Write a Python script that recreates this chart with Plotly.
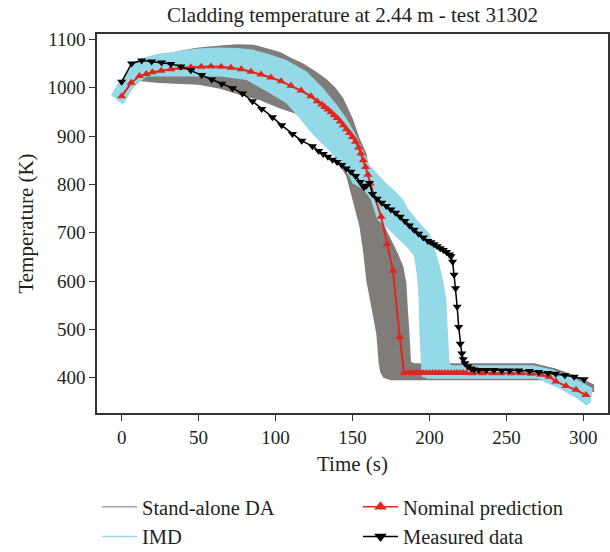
import plotly.graph_objects as go

# ---------------- data ----------------
title_text = "Cladding temperature at 2.44 m - test 31302"

# Measured data (black, down triangles)
meas_t = [0, 6.5, 13, 19.5, 26, 32, 38.5, 45, 52, 58.5, 65, 72, 78.5, 85, 91, 98, 104, 111, 117, 124,
          128, 131, 134, 137, 140, 143, 146, 149, 152, 155, 157.5, 159, 161, 163, 166, 169, 172, 175,
          178, 181, 184, 187, 190, 193, 196, 199, 201, 203, 205, 207, 209, 211, 213, 214, 215, 216,
          217, 218, 219, 220, 221, 222, 223, 225, 227, 229, 232, 237, 242, 247, 252, 258, 265, 271,
          277, 282, 288, 294, 300.5]
meas_T = [1012, 1050, 1056, 1054, 1052, 1049, 1044, 1036, 1026, 1017, 1008, 999, 988, 972, 956, 939, 922, 904, 890, 879,
          869, 863, 857, 851, 846, 840, 833, 826, 817, 805, 794, 797, 803, 780, 770, 762, 755, 748,
          741, 733, 724, 715, 706, 698, 690, 683, 680, 676, 672, 668, 664, 660, 655, 651, 640, 613,
          585, 547, 505, 470, 450, 438, 430, 423, 419, 417, 416, 416, 416, 415, 415, 415, 414, 412,
          410, 408, 405, 402, 397]

# Nominal prediction (red, up triangles)
nom_t = [0, 6.2, 11.6, 16, 20, 25.7, 32, 38.7, 45, 51.7, 58, 64.7, 71, 77.7, 84, 90.6, 97, 103.6, 110, 116.6,
         123, 127, 130, 132, 134, 136, 138, 140, 142, 144, 146, 148, 150, 152, 154, 155.5, 157, 158.5,
         160, 161.5, 168.6, 172.5, 176.3, 180.7, 183.5, 186, 188, 190, 192, 194, 196, 198, 200, 202,
         204, 206, 208, 210, 212, 214, 216, 218, 220, 222, 224, 228, 234.5, 241, 246.5, 253, 259.4,
         265.9, 272.4, 277.8, 282.2, 288.7, 295.2, 301.7]
nom_T = [982, 1010, 1024, 1028, 1032, 1035, 1038, 1041, 1042, 1043, 1044, 1043, 1041, 1038, 1033, 1027, 1021, 1013, 1004, 994,
         982, 972, 965, 960, 955, 949, 943, 937, 930, 922, 914, 906, 898, 888, 876, 864, 850, 836,
         820, 802, 733, 676, 621, 484, 410, 410, 410, 410, 410, 410, 410, 410, 410, 410,
         410, 410, 410, 410, 410, 410, 410, 410, 410, 410, 410, 409, 409, 409, 409, 409, 409,
         408, 406, 402, 392, 383, 375, 364]

# Stand-alone DA band (outline: upper/right edge, then lower/left edge back)
da_t = [5, 9, 14, 22, 35, 50, 64, 75, 86, 96, 103, 110, 118, 126, 133, 139, 144, 150, 154.5, 159, 161.5,
        163, 168, 173, 179.4, 183, 185, 186, 187, 188, 190, 268, 282, 295, 307,
        307, 295, 283, 272, 175, 170, 168, 167, 165.5, 162, 159, 157, 154.5, 150, 146, 140, 134, 129,
        122, 115, 102, 90, 77, 64, 50, 35, 22, 12, 8, 5]
da_T = [1010, 1030, 1048, 1062, 1075, 1083, 1087, 1090, 1089, 1080, 1074, 1062, 1050, 1034, 1018, 1000, 978, 937, 896, 865, 820,
        782, 735, 699, 658, 630, 596, 540, 492, 433, 430, 430, 419, 404, 386,
        370, 378, 388, 395, 395, 400, 412, 430, 490, 550, 600, 658, 713, 768, 816, 850, 880, 910,
        932, 944, 958, 974, 985, 998, 1006, 1008, 1010, 1014, 1010, 1010]

# IMD band (outline)
imd_t = [-7, -3, 3, 8, 12, 22, 35, 50, 62, 75, 85, 96, 107, 120, 131, 139, 146, 152, 157, 161, 172, 178,
         183, 186, 191, 196, 200, 203, 206, 209, 211, 212, 213, 214, 267, 280, 293, 306,
         305, 302, 296, 284, 270, 199, 195, 194.5, 193.5, 193, 192, 190, 186, 182, 178, 172, 166, 162,
         157, 150, 148, 141.5, 135, 128.5, 121, 115.5, 107, 96, 81, 64, 44, 16, 7.3, 1, -7]
imd_T = [985, 1005, 1030, 1050, 1060, 1069, 1075, 1081, 1083, 1082, 1079, 1069, 1057, 1034, 999, 968, 937, 903, 870, 840, 802, 785,
         768, 750, 730, 712, 699, 670, 640, 600, 561, 492, 433, 426, 426, 417, 401, 378,
         350, 342, 357, 378, 398, 398, 402, 430, 492, 561, 609, 651, 668, 680, 692, 712, 727, 768,
         790, 802, 816, 844, 870, 889, 915, 937, 968, 989, 1016, 1023, 1023, 1023, 999, 965, 985]

x_ticks = [0, 50, 100, 150, 200, 250, 300]
y_ticks = [400, 500, 600, 700, 800, 900, 1000, 1100]

GRAY = "#807c7a"
CYAN = "#93d9e8"
RED = "#e3261b"
FONT = "Liberation Serif"
TXT = "#231f20"

fig = go.Figure()

fig.add_trace(go.Scatter(x=da_t, y=da_T, fill="toself", fillcolor=GRAY, mode="none",
                         showlegend=False, hoverinfo="skip"))
fig.add_trace(go.Scatter(x=imd_t, y=imd_T, fill="toself", fillcolor=CYAN, mode="none",
                         showlegend=False, hoverinfo="skip"))
fig.add_trace(go.Scatter(x=nom_t, y=nom_T, mode="lines+markers", name="Nominal prediction",
                         line=dict(color=RED, width=2),
                         marker=dict(symbol="triangle-up", size=8, color=RED),
                         showlegend=False))
fig.add_trace(go.Scatter(x=meas_t, y=meas_T, mode="lines+markers", name="Measured data",
                         line=dict(color="black", width=1.5),
                         marker=dict(symbol="triangle-down", size=8, color="black"),
                         showlegend=False))

# legend entries
fig.add_trace(go.Scatter(x=[None], y=[None], mode="lines", name="Stand-alone DA", fill="none",
                         line=dict(color="#a6a6a6", width=1.5),
                         legend="legend", legendgroup="a"))
fig.add_trace(go.Scatter(x=[None], y=[None], mode="lines", name="IMD", fill="none",
                         line=dict(color="#93d5e4", width=1.5),
                         legend="legend", legendgroup="b"))
fig.add_trace(go.Scatter(x=[None], y=[None], mode="lines+markers", name="Nominal prediction",
                         line=dict(color=RED, width=1.5),
                         marker=dict(symbol="triangle-up", size=11, color=RED),
                         legend="legend2", legendgroup="c"))
fig.add_trace(go.Scatter(x=[None], y=[None], mode="lines+markers", name="Measured data",
                         line=dict(color="black", width=1.5),
                         marker=dict(symbol="triangle-down", size=11, color="black"),
                         legend="legend2", legendgroup="d"))

axis_common = dict(showline=True, mirror=True, linecolor="#333333", linewidth=1.5,
                   ticks="outside", ticklen=6, tickwidth=1.2, tickcolor="#333333",
                   showgrid=False, zeroline=False,
                   tickfont=dict(family=FONT, size=19, color=TXT))

plot_l, plot_r, plot_t, plot_b = 97, 608, 34, 413
pw = plot_r - plot_l
ph = plot_b - plot_t

def px_x(p):
    return (p - plot_l) / pw

def px_y(p):
    return (plot_b - p) / ph

legend_common = dict(xanchor="left", yanchor="top", orientation="v",
                     traceorder="grouped", tracegroupgap=0, itemwidth=35,
                     font=dict(family=FONT, size=20.5, color=TXT),
                     bgcolor="rgba(0,0,0,0)")

fig.update_layout(
    width=610, height=552,
    margin=dict(l=plot_l, r=610 - plot_r, t=plot_t, b=552 - plot_b, autoexpand=False),
    paper_bgcolor="white", plot_bgcolor="white",
    font=dict(family=FONT, size=19, color=TXT),
    title=dict(text=title_text, x=0.5, xref="paper", xanchor="center",
               y=1 - 15 / 552, yref="container", yanchor="middle",
               font=dict(family=FONT, size=21, color=TXT)),
    xaxis=dict(range=[-16, 316], tickvals=x_ticks,
               title=dict(text="Time (s)", standoff=10, font=dict(family=FONT, size=21)),
               **axis_common),
    yaxis=dict(range=[327, 1111], tickvals=y_ticks,
               title=dict(text="Temperature (K)", standoff=8, font=dict(family=FONT, size=21)),
               **axis_common),
    legend=dict(x=px_x(97), y=px_y(487), **legend_common),
    legend2=dict(x=px_x(358), y=px_y(487), **legend_common),
)

fig.write_html("out.html")
